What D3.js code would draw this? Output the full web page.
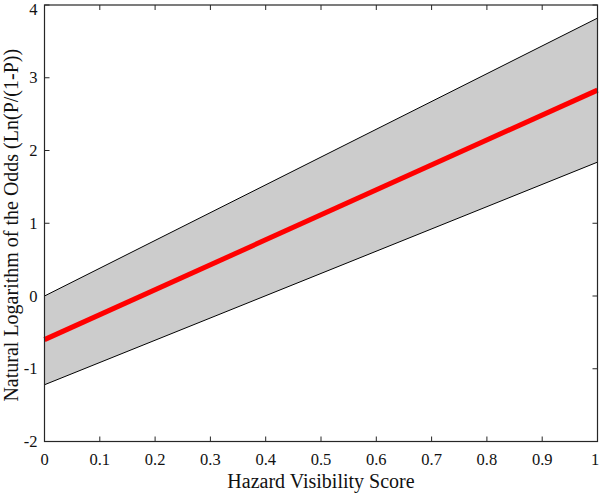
<!DOCTYPE html>
<html><head><meta charset="utf-8">
<script src="https://cdn.jsdelivr.net/npm/d3@7"></script>
<style>body{margin:0;background:#fff}svg{display:block}</style>
</head><body>
<svg id="c" width="600" height="493"></svg>
<script>
const xVals = [0, 1];
const upperBound = [0.0, 3.82];
const fitLine = [-0.6, 2.83];
const lowerBound = [-1.22, 1.84];
const xTicks = [0,0.1,0.2,0.3,0.4,0.5,0.6,0.7,0.8,0.9,1];
const yTicks = [-2,-1,0,1,2,3,4];
const xTitle = "Hazard Visibility Score";
const yTitle = "Natural Logarithm of the Odds (Ln(P/(1-P))";

const svg = d3.select("#c");
const L = 44.5, R = 597.5, T = 5, B = 441.5;
const x = d3.scaleLinear().domain([0,1]).range([L,R]);
const y = d3.scaleLinear().domain([-2,4]).range([B,T]);
const font = "'Liberation Serif','Times New Roman',serif";
const axisCol = "#262626";

const data = xVals.map((v,i)=>({x:v,u:upperBound[i],f:fitLine[i],l:lowerBound[i]}));

// ticks (inward, all four sides)
const tl = 5;
const g = svg.append("g");
xTicks.forEach(t=>{
  g.append("line").attr("x1",x(t)).attr("x2",x(t)).attr("y1",B).attr("y2",B-tl).attr("stroke",axisCol);
  g.append("line").attr("x1",x(t)).attr("x2",x(t)).attr("y1",T).attr("y2",T+tl).attr("stroke",axisCol);
  g.append("text").attr("x",Math.min(x(t),595)).attr("y",B+23).attr("text-anchor","middle")
    .attr("font-family",font).attr("font-size",16.5).attr("fill","#111").text(d3.format("")(t));
});
yTicks.forEach(t=>{
  g.append("line").attr("x1",L).attr("x2",L+tl).attr("y1",y(t)).attr("y2",y(t)).attr("stroke",axisCol);
  g.append("line").attr("x1",R).attr("x2",R-tl).attr("y1",y(t)).attr("y2",y(t)).attr("stroke",axisCol);
  g.append("text").attr("x",L-7).attr("y",Math.max(y(t)+5.5,14.5)).attr("text-anchor","end")
    .attr("font-family",font).attr("font-size",16.5).attr("fill","#111").text(t);
});

// band
const area = d3.area().x(d=>x(d.x)).y0(d=>y(d.l)).y1(d=>y(d.u));
svg.append("path").datum(data).attr("d",area).attr("fill","#cccccc");
svg.append("path").datum(data).attr("d",d3.line().x(d=>x(d.x)).y(d=>y(d.u))).attr("fill","none").attr("stroke","#000").attr("stroke-width",1);
svg.append("path").datum(data).attr("d",d3.line().x(d=>x(d.x)).y(d=>y(d.l))).attr("fill","none").attr("stroke","#000").attr("stroke-width",1);
svg.append("path").datum(data).attr("d",d3.line().x(d=>x(d.x)).y(d=>y(d.f))).attr("fill","none").attr("stroke","#ff0000").attr("stroke-width",5);

// box
svg.append("rect").attr("x",L).attr("y",T).attr("width",R-L).attr("height",B-T)
  .attr("fill","none").attr("stroke",axisCol).attr("stroke-width",1.2);

// titles
svg.append("text").attr("x",(L+R)/2).attr("y",488).attr("text-anchor","middle")
  .attr("font-family",font).attr("font-size",20).attr("fill","#111").text(xTitle);
svg.append("text").attr("transform",`translate(18,${(T+B)/2+2}) rotate(-90)`).attr("text-anchor","middle")
  .attr("font-family",font).attr("font-size",20).attr("fill","#111").text(yTitle);
</script>
</body></html>
